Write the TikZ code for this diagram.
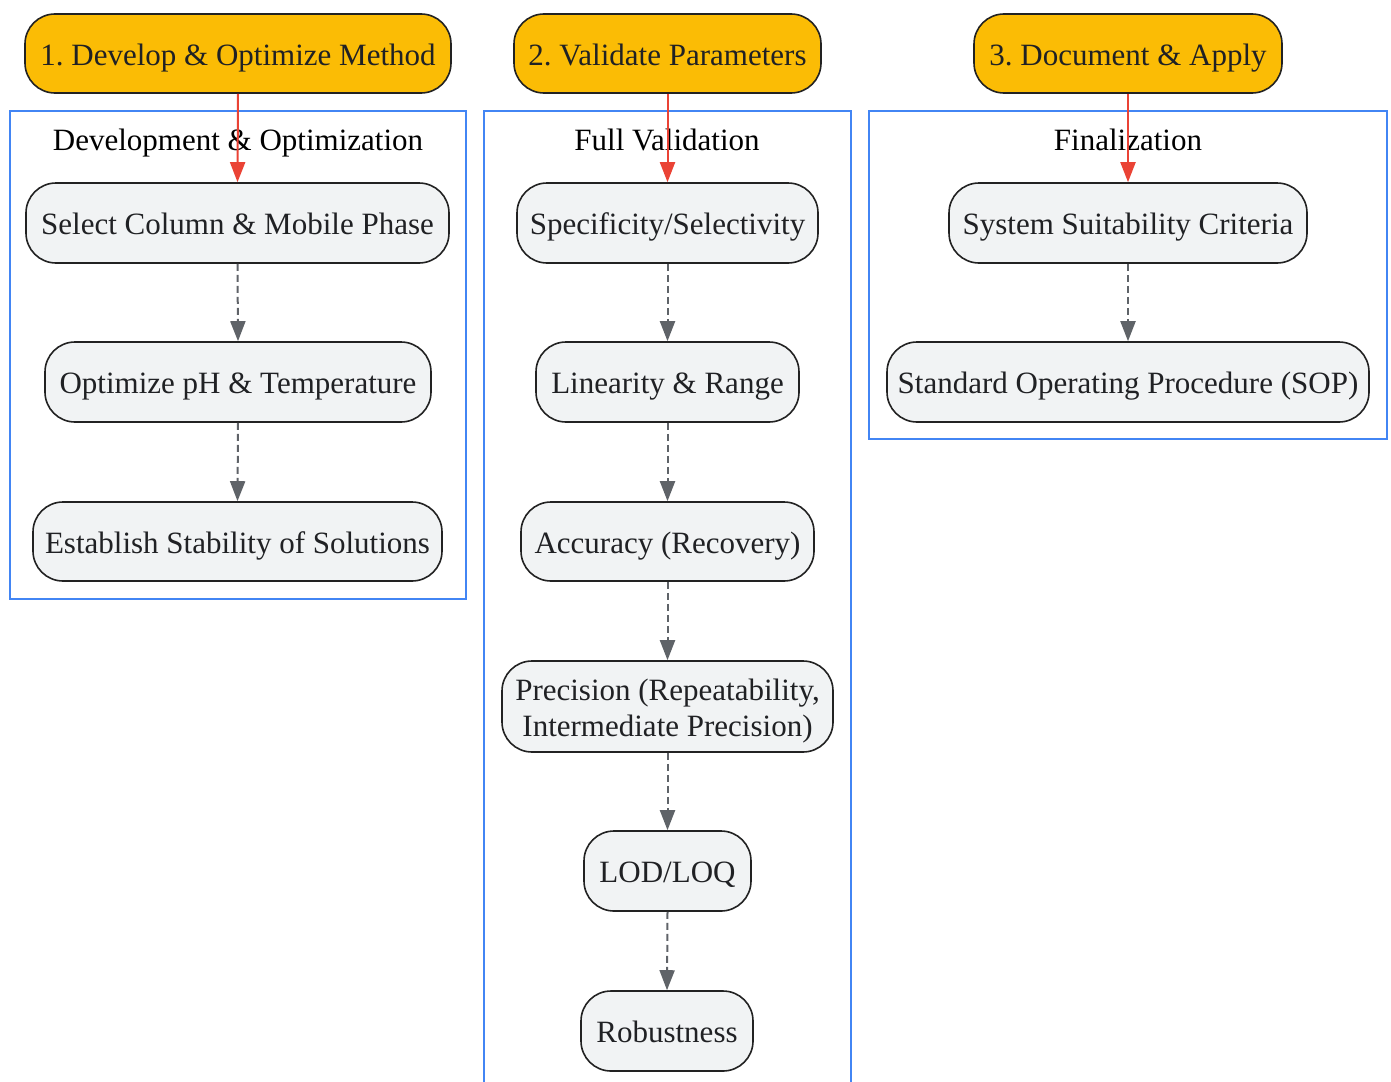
\documentclass[tikz,border=0pt]{standalone}
\usepackage{fontspec}
\setmainfont{Liberation Serif}
\usetikzlibrary{arrows.meta}
\definecolor{stepyellow}{HTML}{FBBC05}
\definecolor{boxgray}{HTML}{F1F3F4}
\definecolor{boxline}{HTML}{222222}
\definecolor{clusterblue}{HTML}{4285F4}
\definecolor{arrowred}{HTML}{EA4335}
\definecolor{arrowgray}{HTML}{5F6368}
\definecolor{txt}{HTML}{202124}
\frenchspacing
\tikzset{
  basefont/.style={font=\fontsize{31}{36}\selectfont},
  onelinetext/.style={text height=28.5pt, text depth=5pt},
  stepnode/.style={draw=boxline, line width=1.6pt, fill=stepyellow, rounded corners=30pt,
    inner sep=0pt, align=center, text=txt, basefont, onelinetext},
  itemnode/.style={draw=boxline, line width=1.6pt, fill=boxgray, rounded corners=30pt,
    inner sep=0pt, align=center, text=txt, basefont},
  cluster/.style={draw=clusterblue, line width=1.6pt},
  clustertitle/.style={text=black, inner sep=0pt, basefont, onelinetext},
  redarrow/.style={draw=arrowred, line width=2pt, -{Triangle[length=20pt,width=15pt]}, arrowred},
  grayarrow/.style={draw=arrowgray, line width=2pt, dash pattern=on 7pt off 4pt,
    -{Triangle[length=20pt,width=15pt]}, arrowgray}
}
\begin{document}
\begin{tikzpicture}[x=1pt,y=-1pt]
\useasboundingbox (0,0) rectangle (1391,1081);
\clip (0,0) rectangle (1391,1081);
% clusters
\draw[cluster] (10,111) rectangle (466,599);
\draw[cluster] (484,111) rectangle (851,1100);
\draw[cluster] (869,111) rectangle (1387,439);
\node[clustertitle] (t1) at (238,139) {Development \& Optimization};
\node[clustertitle] (t2) at (667,139) {Full Validation};
\node[clustertitle] (t3) at (1128,139) {Finalization};
% top step nodes
\node[stepnode, minimum width=426pt, minimum height=79pt] (s1) at (238,53.5) {1. Develop \& Optimize Method};
\node[stepnode, minimum width=307pt, minimum height=79pt] (s2) at (667.5,53.5) {2. Validate Parameters};
\node[stepnode, minimum width=308pt, minimum height=79pt] (s3) at (1128,53.5) {3. Document \& Apply};
% cluster 1
\node[itemnode, onelinetext, minimum width=423pt, minimum height=80pt] (a1) at (237.5,223) {Select Column \& Mobile Phase};
\node[itemnode, onelinetext, minimum width=386pt, minimum height=80pt] (a2) at (238,382) {Optimize pH \& Temperature};
\node[itemnode, onelinetext, minimum width=409pt, minimum height=79pt] (a3) at (237.5,541.5) {Establish Stability of Solutions};
% cluster 2
\node[itemnode, onelinetext, minimum width=301pt, minimum height=80pt] (b1) at (667.5,223) {Specificity/Selectivity};
\node[itemnode, onelinetext, minimum width=263pt, minimum height=80pt] (b2) at (667.5,382) {Linearity \& Range};
\node[itemnode, onelinetext, minimum width=293pt, minimum height=79pt] (b3) at (667.5,541.5) {Accuracy (Recovery)};
\node[itemnode, minimum width=331pt, minimum height=91pt] (b4) at (667.5,706.5) {};
\node[text=txt, basefont, align=center, inner sep=0pt] (b4text) at (667.5,711.5) {Precision (Repeatability,\\Intermediate Precision)};
\node[itemnode, onelinetext, minimum width=167pt, minimum height=80pt] (b5) at (667.5,871) {LOD/LOQ};
\node[itemnode, onelinetext, minimum width=172pt, minimum height=80pt] (b6) at (667,1031) {Robustness};
% cluster 3
\node[itemnode, onelinetext, minimum width=358pt, minimum height=80pt] (c1) at (1128,223) {System Suitability Criteria};
\node[itemnode, onelinetext, minimum width=482pt, minimum height=80pt] (c2) at (1128,382) {Standard Operating Procedure (SOP)};
% red arrows
\draw[redarrow] (s1.south) -- (a1.north);
\draw[redarrow] (s2.south) -- (b1.north);
\draw[redarrow] (s3.south) -- (c1.north);
% gray dashed arrows
\draw[grayarrow] (a1.south) -- (a2.north);
\draw[grayarrow] (a2.south) -- (a3.north);
\draw[grayarrow] (b1.south) -- (b2.north);
\draw[grayarrow] (b2.south) -- (b3.north);
\draw[grayarrow] (b3.south) -- (b4.north);
\draw[grayarrow] (b4.south) -- (b5.north);
\draw[grayarrow] (b5.south) -- (b6.north);
\draw[grayarrow] (c1.south) -- (c2.north);
\end{tikzpicture}
\end{document}
